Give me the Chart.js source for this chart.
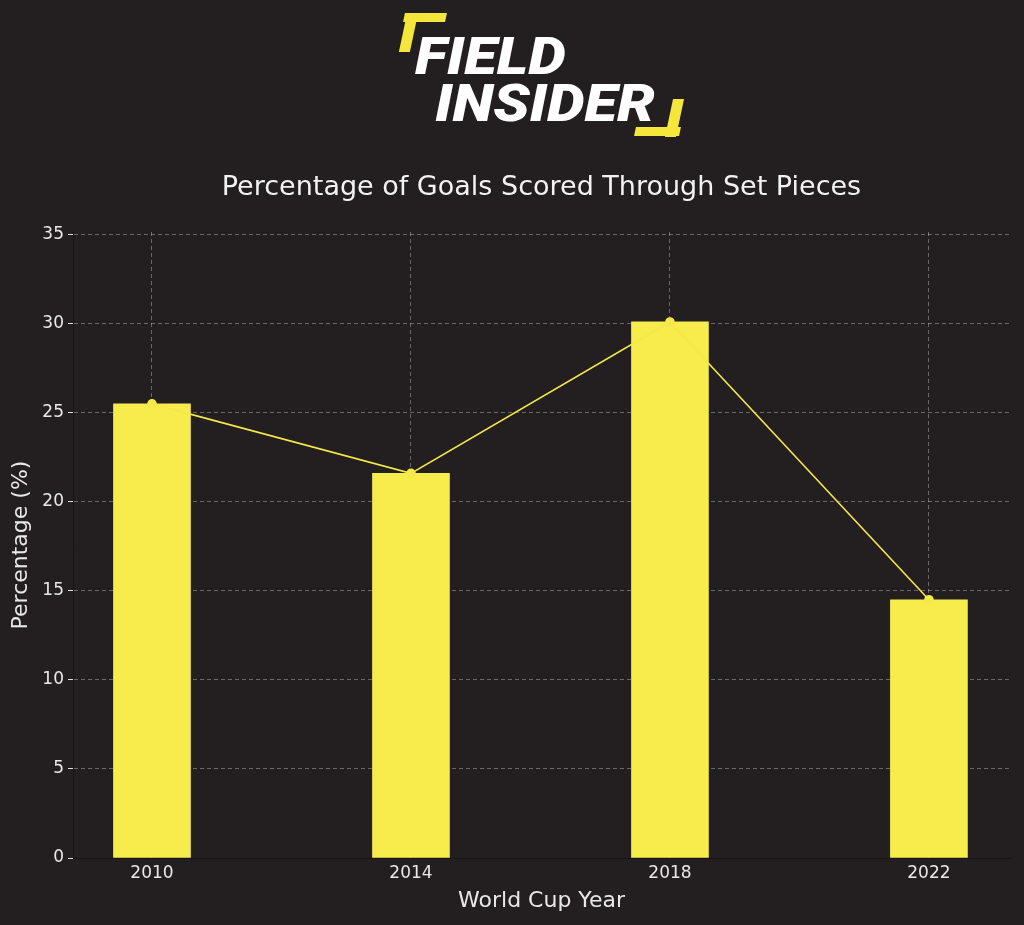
<!DOCTYPE html>
<html>
<head>
<meta charset="utf-8">
<script src="https://cdn.jsdelivr.net/npm/chart.js@4"></script>
<style>
  html, body { margin: 0; padding: 0; background: #231f20; }
  #wrap { position: relative; width: 1024px; height: 925px; overflow: hidden; }
  #chart { position: absolute; left: 0; top: 0; }
  .logo-line {
    position: absolute; color: #fff; font-family: "Roboto", "Liberation Sans", sans-serif;
    font-weight: 900; font-style: italic; font-size: 52px; line-height: 1;
    transform: scaleX(1.15); transform-origin: left top;
  }
  .brk { position: absolute; background: #f5e63c; transform: skewX(-12deg); }
  #title {
    position: absolute; left: 0; width: 1083px; top: 170px; text-align: center;
    font-family: "DejaVu Sans", sans-serif; font-size: 27px; color: #f2f2f2;
  }
</style>
</head>
<body>
<div id="wrap">
  <canvas id="chart" width="1024" height="925"></canvas>
  <!-- logo -->
  <div class="brk" style="left:404px; top:13px; width:42px; height:9px;"></div>
  <div class="brk" style="left:403px; top:13px; width:11px; height:39px;"></div>
  <div class="logo-line" style="left:415px; top:31px;">FIELD</div>
  <div class="logo-line" style="left:435px; top:78px;">INSIDER</div>
  <div class="brk" style="left:669px; top:99px; width:11px; height:38px;"></div>
  <div class="brk" style="left:635px; top:127px; width:45px; height:9px;"></div>
  <div id="title">Percentage of Goals Scored Through Set Pieces</div>
</div>
<script>
// Data
const years = ['2010', '2014', '2018', '2022'];
const setPiecePct = [25.5, 21.6, 30.1, 14.5];
const yTicks = [0, 5, 10, 15, 20, 25, 30, 35];

const yellowBar = '#f7ec4b';
const yellowLine = '#f5e84a';
const gridColor = 'rgba(255,255,255,0.32)';
const textColor = '#e8e8e8';

const points = years.map((y, i) => ({ x: i, y: setPiecePct[i] }));

const ctx = document.getElementById('chart').getContext('2d');
new Chart(ctx, {
  data: {
    datasets: [
      {
        type: 'line',
        data: points,
        borderColor: yellowLine,
        backgroundColor: yellowLine,
        borderWidth: 1.6,
        pointRadius: 4,
        pointHoverRadius: 4,
        order: 0
      },
      {
        type: 'bar',
        data: points,
        backgroundColor: yellowBar,
        borderWidth: 0,
        barThickness: 77,
        order: 1
      }
    ]
  },
  options: {
    responsive: false,
    animation: false,
    events: [],
    layout: { padding: { left: 0, top: 232, right: 14, bottom: 7 } },
    plugins: {
      legend: { display: false },
      tooltip: { enabled: false }
    },
    scales: {
      x: {
        type: 'linear',
        min: -0.305,
        max: 3.313,
        offset: false,
        z: 1,
        afterBuildTicks: s => { s.ticks = years.map((_, i) => ({ value: i })); },
        afterFit: s => { s.height = 60; },
        ticks: {
          color: textColor,
          font: { family: 'DejaVu Sans', size: 17 },
          padding: 5,
          callback: v => years[v]
        },
        grid: {
          offset: false,
          color: gridColor,
          lineWidth: 1,
          drawTicks: false
        },
        border: { display: true, color: '#171415', width: 1, dash: [4, 3] },
        title: {
          display: true,
          text: 'World Cup Year',
          color: textColor,
          font: { family: 'DejaVu Sans', size: 22 },
          padding: { top: 3 }
        }
      },
      y: {
        min: 0,
        max: 35.15,
        z: 1,
        afterBuildTicks: s => { s.ticks = yTicks.map(v => ({ value: v })); },
        afterFit: s => { s.width = 73; },
        ticks: {
          color: textColor,
          font: { family: 'DejaVu Sans', size: 17 },
          padding: 4
        },
        grid: {
          color: gridColor,
          tickColor: '#dddddd',
          tickLength: 5,
          tickBorderDash: [],
          lineWidth: 1
        },
        border: { display: true, color: '#171415', width: 1, dash: [4, 3] },
        title: {
          display: true,
          text: 'Percentage (%)',
          color: textColor,
          font: { family: 'DejaVu Sans', size: 22 },
          padding: { bottom: 0, top: 8 }
        }
      }
    }
  }
});
</script>
</body>
</html>
